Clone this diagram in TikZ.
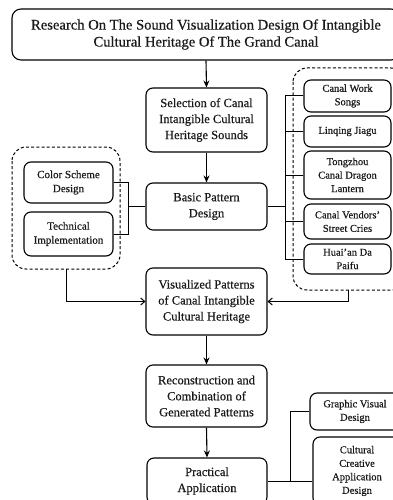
\documentclass[tikz,border=0pt]{standalone}
\usepackage{fontspec}
\setmainfont{Liberation Serif}[FakeBold=0.5]
\usetikzlibrary{arrows.meta,calc}
\begin{document}
\begin{tikzpicture}[x=1pt,y=-1pt,
  box/.style={draw, line width=1.1pt, rounded corners=7pt, align=center, inner sep=1pt, text=black!90},
  mainbox/.style={box, minimum width=121pt, font=\fontsize{12.5}{16}\selectfont},
  leftbox/.style={box, minimum width=89pt, font=\fontsize{11}{14}\selectfont},
  rightbox/.style={box, minimum width=87pt, font=\fontsize{10.5}{13.5}\selectfont},
  group/.style={draw, line width=1pt, dash pattern=on 3pt off 2.2pt, rounded corners=14pt},
  conn/.style={line width=1pt},
  arr/.style={line width=1.1pt, -{Stealth[length=7pt,width=6pt]}},
  harr/.style={line width=1pt, -{Straight Barb[length=4pt,width=7pt]}}
]
\useasboundingbox (0,0) rectangle (393,500);
\clip (0,0) rectangle (393,500);

% title
\node[box, minimum width=388pt, minimum height=51pt, rounded corners=9pt, font=\fontsize{14.6}{17}\selectfont] (title) at (206,34.5)
  {Research On The Sound Visualization Design Of Intangible\\Cultural Heritage Of The Grand Canal};

% main column
\node[mainbox, minimum height=64pt] (sel) at (206.5,120) {Selection of Canal\\Intangible Cultural\\Heritage Sounds};
\node[mainbox, minimum height=47pt] (basic) at (206.5,206.5) {Basic Pattern\\Design};
\node[mainbox, minimum height=67pt] (vis) at (206.5,301.5) {Visualized Patterns\\of Canal Intangible\\Cultural Heritage};
\node[mainbox, minimum height=62pt] (rec) at (206.5,396) {Reconstruction and\\Combination of\\Generated Patterns};
\node[mainbox, minimum height=46pt, minimum width=120pt] (prac) at (207,481) {Practical\\Application};

% left group
\draw[group] (12,147) rectangle (120,269);
\coordinate (lg) at (66,269);
\node[leftbox, minimum height=41pt] (color) at (68.5,182.5) {Color Scheme\\Design};
\node[leftbox, minimum height=44pt] (tech) at (68.5,234) {Technical\\Implementation};

% right group
\draw[group] (293,68) rectangle (405,290);
\coordinate (rg) at (348,290);
\node[rightbox, minimum height=32pt] (cws) at (347.5,96) {Canal Work\\Songs};
\node[rightbox, minimum height=31pt] (lj) at (347.5,131.5) {Linqing Jiagu};
\node[rightbox, minimum height=48pt] (tz) at (347.5,175) {Tongzhou\\Canal Dragon\\Lantern};
\node[rightbox, minimum height=35pt] (cv) at (347.5,221.5) {Canal Vendors'\\Street Cries};
\node[rightbox, minimum height=30pt] (ha) at (347.5,259) {Huai'an Da\\Paifu};

% application outputs
\node[rightbox, minimum width=90pt, minimum height=37pt] (gvd) at (355,411.5) {Graphic Visual\\Design};
\node[rightbox, minimum width=88pt, minimum height=68pt] (ccad) at (357,471) {Cultural\\Creative\\Application\\Design};

% vertical arrows
\draw[arr] (title.south) -- (sel.north);
\draw[arr] (sel.south) -- (basic.north);
\draw[arr] (vis.south) -- (rec.north);
\draw[arr] (rec.south) -- (prac.north);

% left bracket
\coordinate (lb) at (128,206.5);
\draw[conn] (color.east) -| (lb);
\draw[conn] (tech.east) -| (lb);
\draw[conn] (lb) -- (basic.west);

% right trunk
\coordinate (rt) at (285,206.5);
\draw[conn] (basic.east) -- (rt);
\draw[conn] (cws.west) -| (rt);
\draw[conn] (ha.west) -| (rt);
\draw[conn] (lj.west) -- (lj.west -| rt);
\draw[conn] (tz.west) -- (tz.west -| rt);
\draw[conn] (cv.west) -- (cv.west -| rt);

% groups to visualized
\draw[harr] (lg) |- (vis.west);
\draw[harr] (rg) |- (vis.east);

% practical to outputs
\coordinate (pt) at (290,481);
\draw[conn] (prac.east) -- (prac.east -| ccad.west);
\draw[conn] (pt) |- (gvd.west);
\end{tikzpicture}
\end{document}
